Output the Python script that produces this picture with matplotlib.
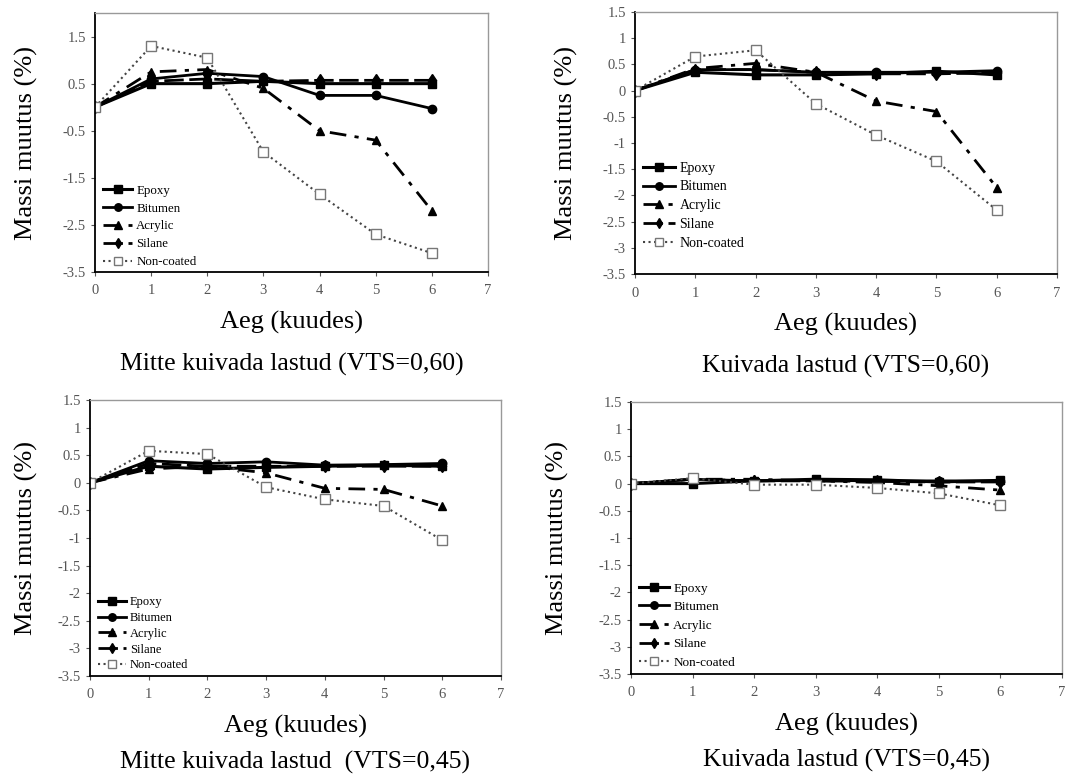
import numpy as np
import matplotlib.pyplot as plt

plt.rcParams['font.family'] = ['Liberation Serif', 'DejaVu Serif']

months = [0, 1, 2, 3, 4, 5, 6]
labels = ['Epoxy', 'Bitumen', 'Acrylic', 'Silane', 'Non-coated']

# Mitte kuivada lastud (VTS=0,60)
a_epoxy = [0, 0.5, 0.5, 0.55, 0.5, 0.5, 0.5]
a_bitumen = [0, 0.6, 0.72, 0.65, 0.25, 0.25, -0.03]
a_acrylic = [0, 0.75, 0.8, 0.4, -0.5, -0.7, -2.2]
a_silane = [0, 0.55, 0.6, 0.55, 0.57, 0.57, 0.57]
a_noncoated = [0, 1.3, 1.05, -0.95, -1.85, -2.7, -3.1]

# Kuivada lastud (VTS=0,60)
b_epoxy = [0, 0.35, 0.3, 0.3, 0.32, 0.37, 0.3]
b_bitumen = [0, 0.4, 0.4, 0.35, 0.35, 0.35, 0.38]
b_acrylic = [0, 0.42, 0.52, 0.35, -0.2, -0.4, -1.85]
b_silane = [0, 0.4, 0.4, 0.35, 0.32, 0.32, 0.34]
b_noncoated = [0, 0.65, 0.77, -0.25, -0.85, -1.35, -2.28]

# Mitte kuivada lastud (VTS=0,45)
c_epoxy = [0, 0.3, 0.25, 0.28, 0.3, 0.32, 0.3]
c_bitumen = [0, 0.4, 0.35, 0.38, 0.32, 0.33, 0.35]
c_acrylic = [0, 0.25, 0.3, 0.18, -0.1, -0.12, -0.42]
c_silane = [0, 0.35, 0.3, 0.3, 0.3, 0.3, 0.3]
c_noncoated = [0, 0.58, 0.52, -0.08, -0.3, -0.42, -1.04]

# Kuivada lastud (VTS=0,45)
d_epoxy = [0, 0.0, 0.05, 0.08, 0.07, 0.03, 0.06]
d_bitumen = [0, 0.08, 0.05, 0.06, 0.05, 0.05, 0.05]
d_acrylic = [0, 0.08, 0.08, 0.05, 0.02, -0.04, -0.12]
d_silane = [0, 0.08, 0.05, 0.05, 0.04, 0.03, 0.03]
d_noncoated = [0, 0.1, -0.02, -0.02, -0.08, -0.18, -0.4]

titles = ['Mitte kuivada lastud (VTS=0,60)', 'Kuivada lastud (VTS=0,60)',
          'Mitte kuivada lastud  (VTS=0,45)', 'Kuivada lastud (VTS=0,45)']

W, H = 1091, 778
fig = plt.figure(figsize=(W / 100, H / 100), dpi=100)


def px_axes(l, t, r, b):
    return fig.add_axes([l / W, 1 - b / H, (r - l) / W, (b - t) / H])


panels = [
    # box (l, t, r, b), data, ylim, ystep, legend y (axes frac), ylabel x px, legend font, spacing
    ((95, 13, 488, 272), [a_epoxy, a_bitumen, a_acrylic, a_silane, a_noncoated], (-3.5, 2.0), 1.0, -0.015, 38, 9.3, 0.45),
    ((635, 12, 1057, 274), [b_epoxy, b_bitumen, b_acrylic, b_silane, b_noncoated], (-3.5, 1.5), 0.5, 0.06, 578, 10, 0.42),
    ((90, 400, 501, 676), [c_epoxy, c_bitumen, c_acrylic, c_silane, c_noncoated], (-3.5, 1.5), 0.5, -0.01, 38, 9, 0.3),
    ((631, 402, 1062, 674), [d_epoxy, d_bitumen, d_acrylic, d_silane, d_noncoated], (-3.5, 1.5), 0.5, -0.01, 569, 9.5, 0.48),
]

styles = [
    dict(ls='-', lw=2.2, marker='s', ms=6, color='black'),
    dict(ls='-', lw=2.0, marker='o', ms=6, color='black'),
    dict(ls=(0, (6, 3, 1.5, 3)), lw=2.0, marker='^', ms=6, color='black'),
    dict(ls=(0, (7, 2)), lw=2.0, marker='d', ms=6, color='black'),
    dict(ls=':', lw=1.5, marker='s', ms=7, color='#444444', mfc='white', mec='#777777'),
]

for i, (box, series, ylim, ystep, leg_y, ylab_x, leg_fs, leg_sp) in enumerate(panels):
    ax = px_axes(*box)
    for vals, lab, st in zip(series, labels, styles):
        ax.plot(months, vals, label=lab, **st)
    ax.set_xlim(0, 7)
    ax.set_ylim(*ylim)
    ax.set_xticks(range(8))
    yt = np.arange(1.5, -3.51, -ystep)
    ax.set_yticks(yt)
    ax.set_yticklabels([f'{v:g}' for v in yt])
    ax.tick_params(axis='both', labelsize=10.5, labelcolor='#555555', length=3,
                   width=0.8, color='#555555')
    ax.tick_params(axis='x', pad=6)
    for s in ['left', 'bottom']:
        ax.spines[s].set_color('black')
        ax.spines[s].set_linewidth(1.3)
    for s in ['top', 'right']:
        ax.spines[s].set_color('#999999')
        ax.spines[s].set_linewidth(1.0)

    ax.set_xlabel('Aeg (kuudes)', fontsize=19, labelpad=10)
    ax.set_ylabel('Massi muutus (%)', fontsize=19)
    ax.yaxis.set_label_coords((ylab_x - box[0]) / (box[2] - box[0]), 0.5)

    ax.legend(loc='lower left', bbox_to_anchor=(0.0, leg_y), frameon=False,
              fontsize=leg_fs, handlelength=2.3, handletextpad=0.3, labelspacing=leg_sp,
              borderaxespad=0.2, markerscale=0.9)

    # panel caption under the x label
    cx = (box[0] + box[2]) / 2
    cy = box[3] + 92 if i < 2 else box[3] + 86
    fig.text(cx / W, 1 - cy / H, titles[i], ha='center', va='center', fontsize=18.5)

fig.savefig('out.png', dpi=100)
